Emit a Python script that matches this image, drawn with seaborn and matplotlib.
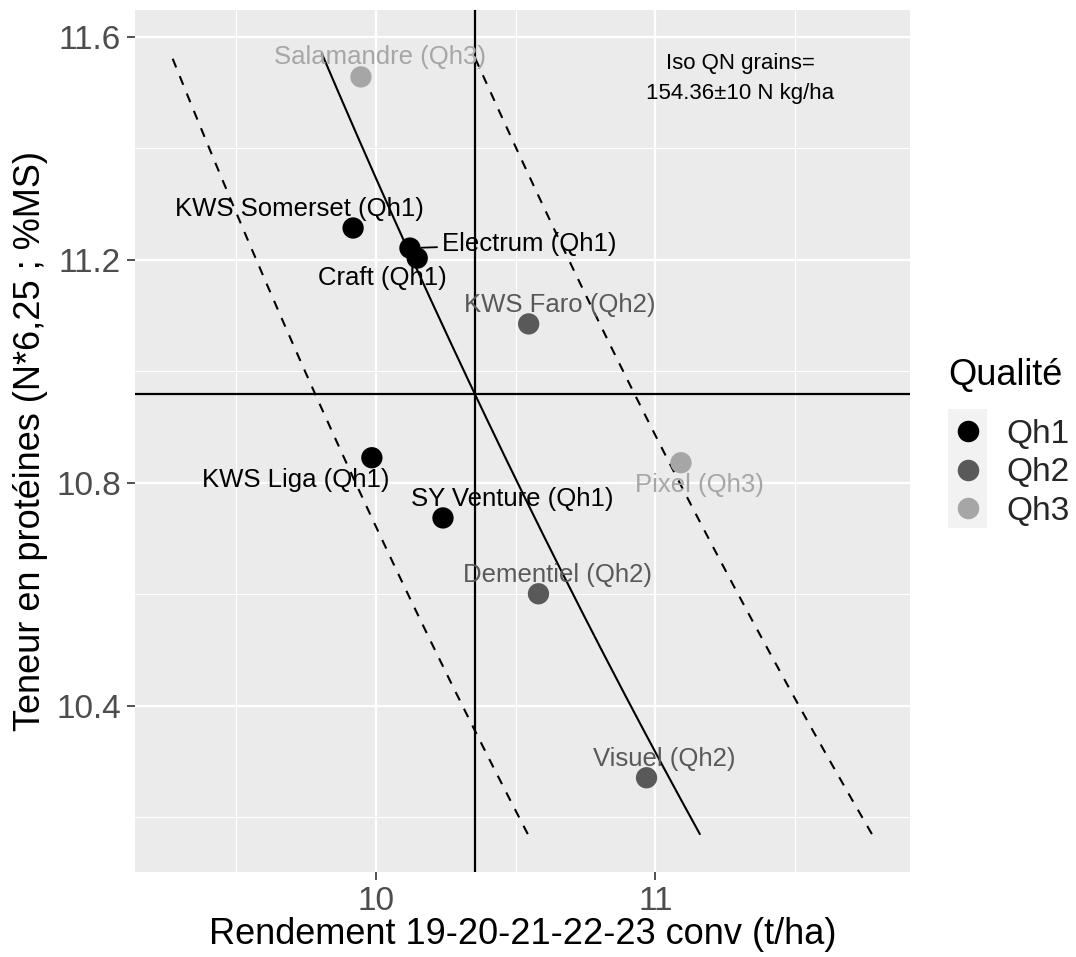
import numpy as np
import pandas as pd
import matplotlib
matplotlib.use("Agg")
import matplotlib.pyplot as plt
import seaborn as sns
from matplotlib.lines import Line2D
from matplotlib.patches import Rectangle
from matplotlib.ticker import FixedLocator

# ---------------- data ----------------
varieties = ["Salamandre (Qh3)", "KWS Somerset (Qh1)", "Electrum (Qh1)", "Craft (Qh1)",
             "KWS Faro (Qh2)", "KWS Liga (Qh1)", "SY Venture (Qh1)", "Pixel (Qh3)",
             "Dementiel (Qh2)", "Visuel (Qh2)"]
quality = ["Qh3", "Qh1", "Qh1", "Qh1", "Qh2", "Qh1", "Qh1", "Qh3", "Qh2", "Qh2"]
yield_t = [9.948, 9.920, 10.123, 10.149, 10.547, 9.987, 10.241, 11.091, 10.582, 10.968]
protein = [11.528, 11.257, 11.221, 11.203, 11.085, 10.845, 10.737, 10.836, 10.601, 10.271]

quality_levels = ["Qh1", "Qh2", "Qh3"]
quality_colors = ["#000000", "#595959", "#a6a6a6"]

# iso-QN curves: yield * protein = constant (centre = mean point) +/- offset
iso_offsets = [-6.25, 0.0, 6.25]
iso_protein_span = [10.17, 11.57]
annot_lines = ["Iso QN grains=", "154.36\u00b110 N kg/ha"]

x_ticks = [10, 11]
x_minor = [9.5, 10.5, 11.5]
y_ticks = [10.4, 10.8, 11.2, 11.6]
y_minor = [10.2, 10.6, 11.0, 11.4]

# label offsets in pixels (dx, dy up)
label_offsets = {
    "Salamandre (Qh3)": (19, 20),
    "KWS Somerset (Qh1)": (-54, 19),
    "Electrum (Qh1)": (119, 4),
    "Craft (Qh1)": (-35, -20),
    "KWS Faro (Qh2)": (31, 19),
    "KWS Liga (Qh1)": (-76, -22),
    "SY Venture (Qh1)": (69, 19),
    "Pixel (Qh3)": (18, -22),
    "Dementiel (Qh2)": (19, 19),
    "Visuel (Qh2)": (18, 19),
}

df = pd.DataFrame({"Variete": varieties, "Qualité": quality,
                   "Rendement": yield_t, "Proteine": protein})
palette = dict(zip(quality_levels, quality_colors))

# ---------------- style ----------------
sns.set_theme(style="darkgrid", rc={
    "axes.facecolor": "#EBEBEB",
    "grid.color": "white",
    "axes.edgecolor": "#EBEBEB",
    "xtick.color": "#333333",
    "ytick.color": "#333333",
    "xtick.labelcolor": "#4D4D4D",
    "ytick.labelcolor": "#4D4D4D",
})
plt.rcParams["font.family"] = ["Liberation Sans", "DejaVu Sans"]

fig = plt.figure(figsize=(10.76, 9.57), dpi=100)
ax = fig.add_axes([135 / 1076, 85 / 957, 775 / 1076, 862 / 957])

mean_x = np.mean(yield_t)
mean_y = np.mean(protein)

# iso curves
p_seq = np.linspace(iso_protein_span[0], iso_protein_span[1], 200)
for off in iso_offsets:
    k = mean_x * mean_y + off
    ls = "-" if off == 0 else (0, (4.5, 4.5))
    ax.plot(k / p_seq, p_seq, color="black", lw=1.5, linestyle=ls, zorder=2)

# mean reference lines
ax.axvline(mean_x, color="black", lw=1.6, zorder=2)
ax.axhline(mean_y, color="black", lw=1.6, zorder=2)

sns.scatterplot(data=df, x="Rendement", y="Proteine", hue="Qualité",
                hue_order=quality_levels, palette=palette, s=235,
                edgecolor="none", linewidth=0, ax=ax, legend=False, zorder=3)

for name, q, xv, yv in zip(varieties, quality, yield_t, protein):
    dx, dy = label_offsets[name]
    kw = {}
    if name.startswith("Electrum"):
        kw["arrowprops"] = dict(arrowstyle="-", color=palette[q], lw=1.3,
                                shrinkA=1, shrinkB=8)
    ax.annotate(name, xy=(xv, yv), xytext=(dx, dy), textcoords="offset pixels",
                ha="center", va="center", fontsize=18.5, color=palette[q],
                zorder=4, **kw)

ax.text(0.781, 0.9385, annot_lines[0], transform=ax.transAxes, ha="center",
        va="center", fontsize=16, color="black")
ax.text(0.781, 0.9037, annot_lines[1], transform=ax.transAxes, ha="center",
        va="center", fontsize=16, color="black")

ax.set_xlim(9.141, 11.909)
ax.set_ylim(10.102, 11.648)
ax.xaxis.set_major_locator(FixedLocator(x_ticks))
ax.xaxis.set_minor_locator(FixedLocator(x_minor))
ax.yaxis.set_major_locator(FixedLocator(y_ticks))
ax.yaxis.set_minor_locator(FixedLocator(y_minor))
ax.set_xticklabels([f"{v:g}" for v in x_ticks])
ax.set_yticklabels([f"{v:.1f}" for v in y_ticks])
ax.grid(which="major", color="white", lw=1.6)
ax.grid(which="minor", color="white", lw=0.8)
ax.tick_params(axis="both", which="major", length=6, width=1.2, pad=4,
               labelsize=24, bottom=True, left=True)
ax.tick_params(axis="both", which="minor", length=0)
for sp in ax.spines.values():
    sp.set_visible(False)

ax.set_xlabel("Rendement 19-20-21-22-23 conv (t/ha)", fontsize=26, color="black",
              labelpad=0)
ax.set_ylabel("Teneur en protéines (N*6,25 ; %MS)", fontsize=26, color="black",
              labelpad=6)

# legend
fig.text(948 / 1076, 1 - 376 / 957, "Qualité", fontsize=26, ha="left",
         va="center", color="black")
fig.add_artist(Rectangle((948 / 1076, 1 - 528 / 957), 39 / 1076, 119 / 957,
                         transform=fig.transFigure, facecolor="#F2F2F2",
                         edgecolor="none", zorder=1))
handles = [Line2D([], [], marker="o", linestyle="", color=c, markersize=15.5,
                  markeredgewidth=0) for c in quality_colors]
fig.legend(handles, quality_levels, loc="upper left",
           bbox_to_anchor=(948 / 1076, 1 - 419 / 957), frameon=False,
           fontsize=24, borderpad=0, borderaxespad=0, handlelength=1.2,
           handletextpad=0.55, labelspacing=0.22)

fig.savefig("out.png", dpi=100)
